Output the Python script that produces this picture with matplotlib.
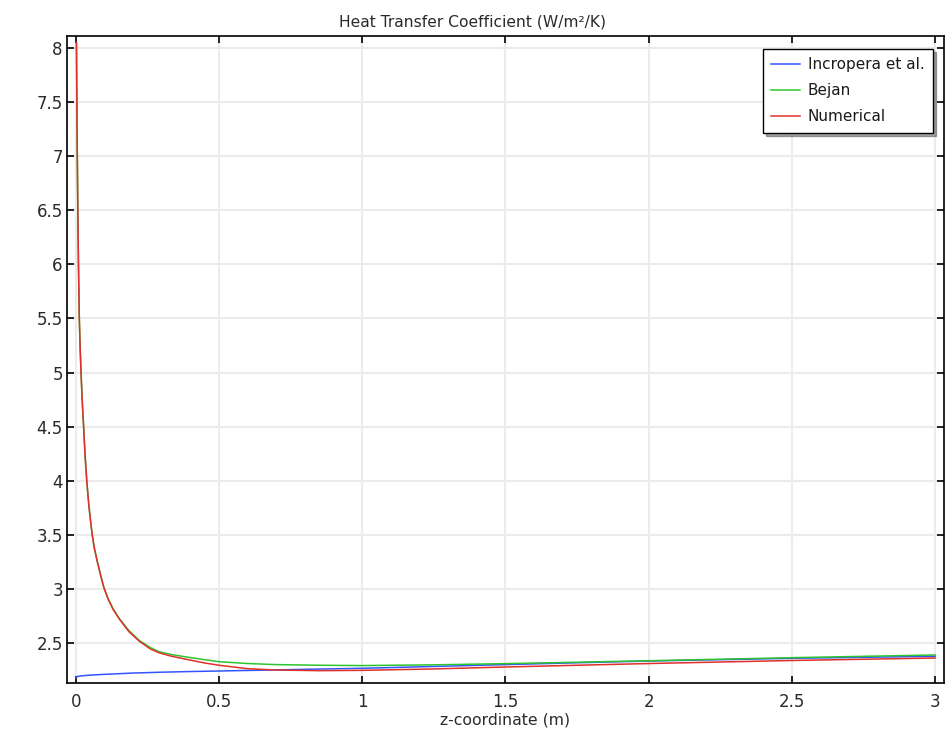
import matplotlib
matplotlib.use('Agg')
import matplotlib.pyplot as plt

# values
z_incropera = [0.0, 0.005, 0.02, 0.05, 0.1, 0.2, 0.3, 0.4, 0.5, 0.6, 0.7, 0.85, 1.0, 1.25,
               1.5, 1.75, 2.0, 2.5, 3.0]
h_incropera = [2.18, 2.19, 2.196, 2.203, 2.21, 2.222, 2.23, 2.236, 2.241, 2.246, 2.251, 2.259,
               2.266, 2.283, 2.30, 2.317, 2.333, 2.358, 2.377]

z_bejan = [0.002, 0.004, 0.005, 0.007, 0.009, 0.012, 0.015, 0.018, 0.022, 0.027, 0.032,
           0.038, 0.045, 0.052, 0.057, 0.065, 0.075, 0.086, 0.098, 0.112, 0.13, 0.152,
           0.185, 0.222, 0.26, 0.29, 0.33, 0.38, 0.45, 0.5, 0.6, 0.7, 0.85, 1.0, 1.25,
           1.5, 1.75, 2.0, 2.5, 3.0]
h_bejan = [8.05, 7.3, 7.0, 6.45, 6.0, 5.5, 5.22, 5.0, 4.75, 4.5, 4.24,
           4.0, 3.78, 3.61, 3.5, 3.37, 3.25, 3.13, 3.01, 2.912, 2.815, 2.725,
           2.615, 2.522, 2.457, 2.42, 2.395, 2.373, 2.345, 2.327, 2.31, 2.3, 2.294, 2.291, 2.298,
           2.309, 2.322, 2.336, 2.364, 2.389]

z_numerical = [0.002, 0.004, 0.005, 0.007, 0.009, 0.012, 0.015, 0.018, 0.022, 0.027, 0.032,
               0.038, 0.045, 0.052, 0.057, 0.065, 0.075, 0.086, 0.098, 0.112, 0.13, 0.152,
               0.185, 0.222, 0.26, 0.29, 0.33, 0.38, 0.45, 0.5, 0.6, 0.7, 0.85, 1.0, 1.25,
               1.5, 1.75, 2.0, 2.5, 3.0]
h_numerical = [8.05, 7.3, 7.0, 6.45, 6.0, 5.5, 5.22, 5.0, 4.75, 4.5, 4.24,
               4.0, 3.78, 3.61, 3.5, 3.37, 3.25, 3.13, 3.01, 2.91, 2.81, 2.72,
               2.605, 2.515, 2.445, 2.41, 2.38, 2.352, 2.315, 2.294, 2.262, 2.25, 2.244, 2.247, 2.26,
               2.278, 2.294, 2.31, 2.338, 2.361]

x_ticks = [0, 0.5, 1, 1.5, 2, 2.5, 3]
x_tick_labels = ['0', '0.5', '1', '1.5', '2', '2.5', '3']
y_ticks = [2.5, 3, 3.5, 4, 4.5, 5, 5.5, 6, 6.5, 7, 7.5, 8]
y_tick_labels = ['2.5', '3', '3.5', '4', '4.5', '5', '5.5', '6', '6.5', '7', '7.5', '8']

plt.rcParams['font.family'] = ['DejaVu Sans']

fig = plt.figure(figsize=(9.5, 7.3), dpi=100)
ax = fig.add_axes([67 / 950, 1 - 683 / 730, (944 - 67) / 950, (683 - 36) / 730])

ax.plot(z_incropera, h_incropera, color='#3355ff', lw=1.1, label='Incropera et al.')
ax.plot(z_bejan, h_bejan, color='#2ec42e', lw=1.1, label='Bejan')
ax.plot(z_numerical, h_numerical, color='#e0302a', lw=1.1, label='Numerical')

ax.set_xlim(-0.031, 3.031)
ax.set_ylim(2.13, 8.111)
ax.set_xticks(x_ticks)
ax.set_xticklabels(x_tick_labels)
ax.set_yticks(y_ticks)
ax.set_yticklabels(y_tick_labels)

ax.grid(True, color='#ebebeb', lw=1.5)
ax.set_axisbelow(True)
ax.tick_params(direction='in', top=True, right=True, length=5, width=1.2,
               labelsize=12, labelcolor='#2a2a2a')
ax.tick_params(axis='x', pad=7)
ax.tick_params(axis='y', pad=3)
for sp in ax.spines.values():
    sp.set_linewidth(1.2)

fig.text(0.497, 1 - 22 / 730, 'Heat Transfer Coefficient (W/m²/K)', ha='center', va='center',
         fontsize=11.2, color='#2a2a2a')
ax.set_xlabel('z-coordinate (m)', fontsize=11.3, color='#2a2a2a', labelpad=1)

leg = ax.legend(loc='upper right', bbox_to_anchor=(0.9875, 0.98), fancybox=False, shadow=True,
                edgecolor='black', fontsize=11, handlelength=1.9, borderpad=0.55,
                labelspacing=0.72, handletextpad=0.5, borderaxespad=0)
leg.get_frame().set_linewidth(1.0)
for t in leg.get_texts():
    t.set_color('#1a1a1a')

fig.savefig('out.png', dpi=100)
plt.close(fig)
